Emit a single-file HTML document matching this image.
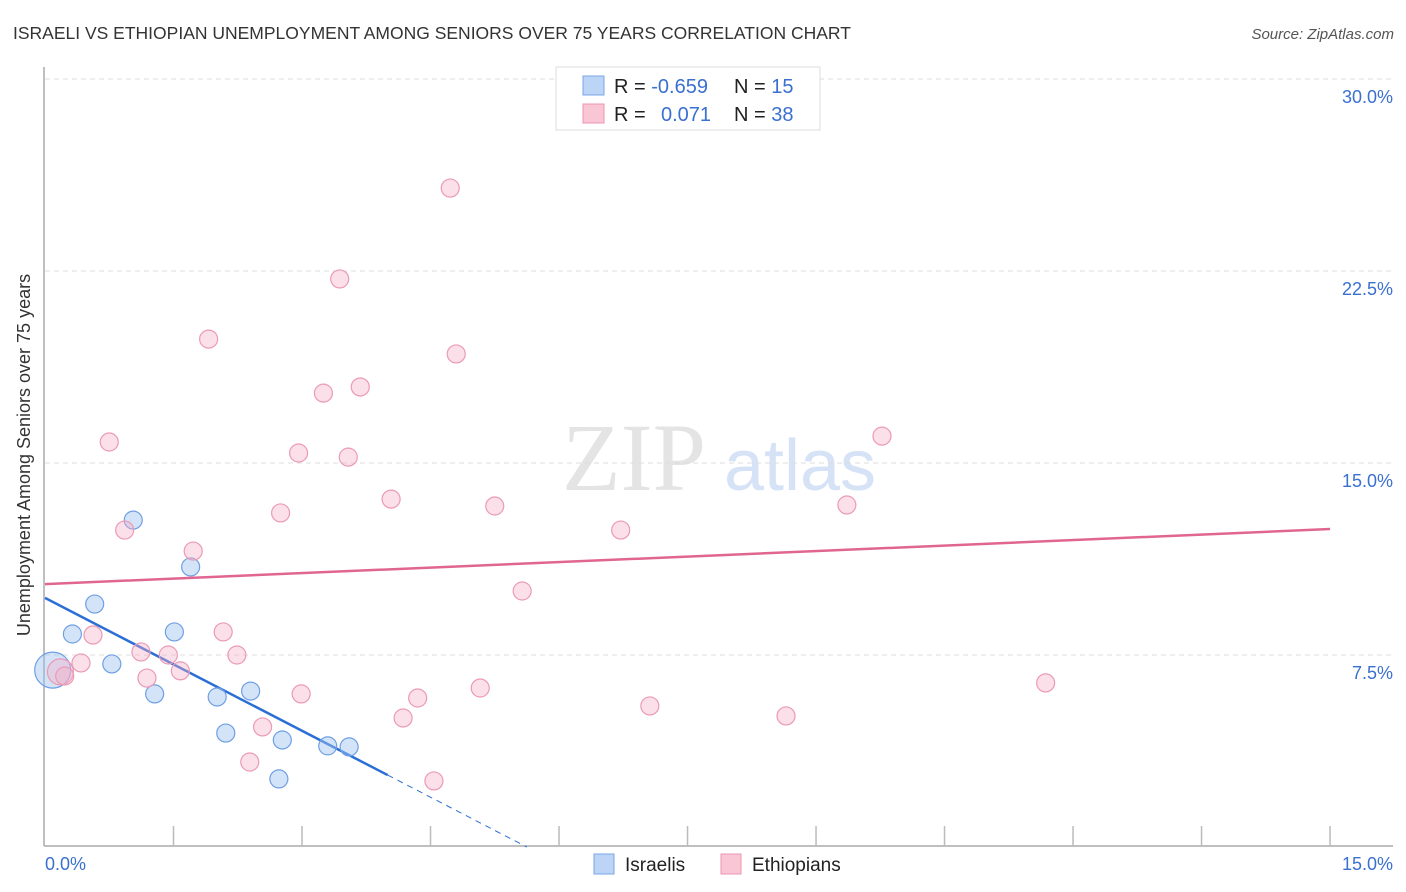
<!DOCTYPE html>
<html><head><meta charset="utf-8"><style>
body{margin:0;background:#fff;font-family:"Liberation Sans",sans-serif}
svg{display:block}
</style></head><body>
<svg id="chart" width="1406" height="892" xmlns="http://www.w3.org/2000/svg">
<text x="13" y="39" font-size="17.5" fill="#333">ISRAELI VS ETHIOPIAN UNEMPLOYMENT AMONG SENIORS OVER 75 YEARS CORRELATION CHART</text>
<text x="1394" y="39" font-size="15" fill="#555" font-style="italic" text-anchor="end">Source: ZipAtlas.com</text>
<text x="30" y="455" font-size="18" fill="#333" text-anchor="middle" transform="rotate(-90 30 455)">Unemployment Among Seniors over 75 years</text>
<g><text x="634" y="490" font-size="96" fill="#e4e4e4" font-family="Liberation Serif,serif" text-anchor="middle">ZIP</text><text x="800" y="490" font-size="72" fill="#d6e2f5" text-anchor="middle">atlas</text></g>
<g id="grid"></g><g id="axes"></g><g id="trends"></g><g id="points"></g>
<g>
<rect x="556" y="67" width="264" height="63" fill="#fff" stroke="#ddd"/>
<rect x="583" y="76" width="21" height="19" fill="#bcd4f5" stroke="#7aa6e6"/>
<rect x="583" y="104" width="21" height="19" fill="#f9c6d5" stroke="#ec94b0"/>
<text x="614" y="93" font-size="20" fill="#222">R = <tspan fill="#3a70d0">-0.659</tspan><tspan x="734">N = </tspan><tspan fill="#3a70d0">15</tspan></text>
<text x="614" y="121" font-size="20" fill="#222">R = <tspan x="661" fill="#3a70d0">0.071</tspan><tspan x="734">N = </tspan><tspan fill="#3a70d0">38</tspan></text>
</g>
<g>
<rect x="594" y="854" width="20" height="20" fill="#bcd4f5" stroke="#7aa6e6"/>
<text x="625" y="871" font-size="19" fill="#222">Israelis</text>
<rect x="721" y="854" width="20" height="20" fill="#f9c6d5" stroke="#ec94b0"/>
<text x="752" y="871" font-size="19" fill="#222">Ethiopians</text>
</g>
</svg>
<script>
const yTicks=[7.5,15,22.5,30];
const yTickLabels=["7.5%","15.0%","22.5%","30.0%"];
const xTickLabels=["0.0%","15.0%"];
const israelX=[0.09,0.32,0.58,0.78,1.03,1.28,1.51,1.70,2.01,2.11,2.40,2.77,2.73,3.30,3.55];
const israelY=[6.91,8.32,9.49,7.15,12.77,5.98,8.40,10.94,5.86,4.45,6.09,4.18,2.66,3.95,3.91];
const ethX=[0.18,0.23,0.42,0.56,0.75,0.93,1.12,1.19,1.44,1.58,1.73,1.91,2.08,2.24,2.39,2.54,2.75,2.96,2.99,3.25,3.44,3.54,3.68,4.04,4.18,4.35,4.54,4.73,4.80,5.08,5.25,5.57,6.72,7.06,8.65,9.36,9.77,11.68];
const ethY=[6.84,6.68,7.19,8.28,15.82,12.38,7.62,6.60,7.50,6.88,11.56,19.84,8.40,7.50,3.32,4.69,13.05,15.39,5.98,17.73,22.19,15.23,17.97,13.59,5.04,5.82,2.58,25.74,19.26,6.21,13.32,10.0,12.38,5.51,5.12,13.36,16.05,6.41];
const israelTrend=[9.73,-1.73]; // intercept, slope
const ethTrend=[10.27,0.1433];
const NS="http://www.w3.org/2000/svg";
const X=v=>45+v*85.67, Y=v=>847-v*25.6;
function mk(p,t,a){const e=document.createElementNS(NS,t);for(const k in a)e.setAttribute(k,a[k]);document.getElementById(p).appendChild(e);return e;}
yTicks.forEach((t,i)=>{
 const l=mk('grid','line',{x1:45,x2:1393,y1:Y(t),y2:Y(t),stroke:'#ddd','stroke-dasharray':'5,4'});
 
 
 const tx=mk('grid','text',{x:1393,y:Y(t)+24,'font-size':18,fill:'#3a70d0','text-anchor':'end'});
 tx.textContent=yTickLabels[i];
 
 
});
mk('axes','line',{x1:44,x2:44,y1:67,y2:846,stroke:'#aaa','stroke-width':1.5});
mk('axes','line',{x1:44,x2:1393,y1:846,y2:846,stroke:'#aaa','stroke-width':1.5});
for(let i=1;i<=10;i++){const l=mk('axes','line',{x1:X(i*1.5),x2:X(i*1.5),y1:826,y2:846,stroke:'#bbb','stroke-width':1.5});
 
 }
[[0,'start',45],[15,'end',1393]].forEach((a,i)=>{const t=mk('axes','text',{x:a[2],y:870,'font-size':18,fill:'#3a70d0','text-anchor':a[1]});t.textContent=xTickLabels[i];
 
 });
const bl=mk('trends','line',{x1:X(0),y1:Y(israelTrend[0]),x2:X(4),y2:Y(israelTrend[0]+4*israelTrend[1]),stroke:'#2b6fd6','stroke-width':2.5});


const x0=-israelTrend[0]/israelTrend[1];
const bd=mk('trends','line',{x1:X(4),y1:Y(israelTrend[0]+4*israelTrend[1]),x2:X(x0),y2:Y(0),stroke:'#2b6fd6','stroke-width':1,'stroke-dasharray':'6,5'});


const pl=mk('trends','line',{x1:X(0),y1:Y(ethTrend[0]),x2:X(15),y2:Y(ethTrend[0]+15*ethTrend[1]),stroke:'#e06590','stroke-width':2.5});


israelX.forEach((x,i)=>{const c=mk('points','circle',{cx:X(x),cy:Y(israelY[i]),r:i==0?18:9,fill:'rgba(160,195,240,0.45)',stroke:'#6f9fe3','stroke-width':1.2});
 
 });
ethX.forEach((x,i)=>{const c=mk('points','circle',{cx:X(x),cy:Y(ethY[i]),r:i==0?13:9,fill:'rgba(245,175,200,0.4)',stroke:'#eb9ab5','stroke-width':1.2});
 
 });
</script>
</body></html>
